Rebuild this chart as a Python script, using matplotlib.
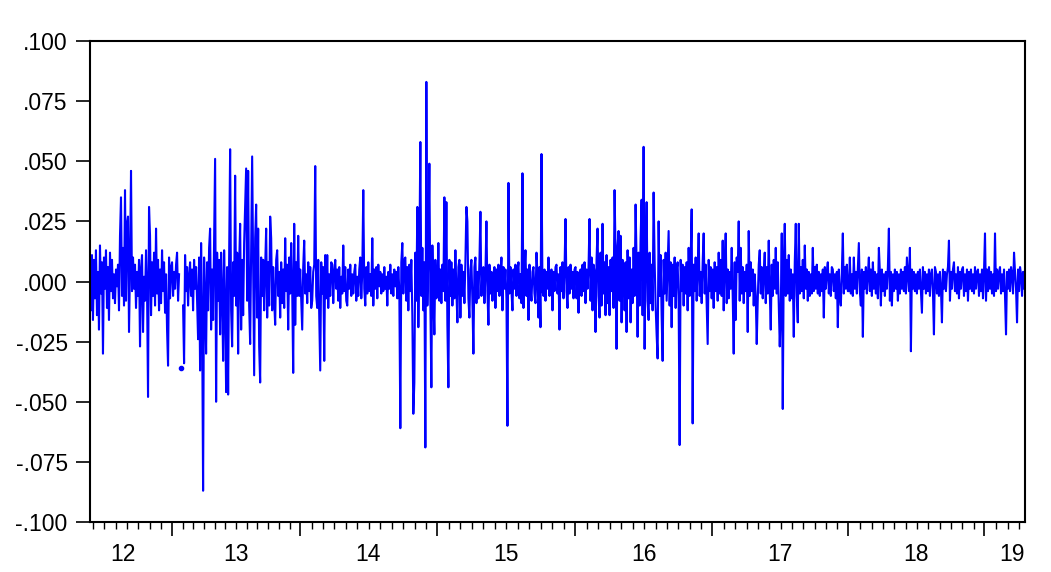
import numpy as np
import matplotlib.pyplot as plt

# daily returns, in thousandths (per mille), one list per calendar year
r2012 = [5, -12, 11, -16, 9, -7, 13, -14, 4, -20, 15, -5, 8, -30, 10, -3, 13, -11, 6, -16,
         12, -4, 9, -7, 3, -9, 5, -2, 7, -12, 19, 35, -6, 14, -10, 38, -8, 24, 27, -21,
         6, 46, -4, 10, -3, 7, -11, 4, -6, 9, -27, 5, 11, -21, 2, -8, 13, -3, -48, 31,
         19, -14, 8, -6, 12, -10, 22, -5, 9, -12, 5, -9, 13, -4, 8, -13, 3, -20, -35, 10,
         -7, 6]
r2013 = [8, -6, 4, -3, 7, 12, -8, 3, None, -36, None, -10, -34, 11, -4, 6, -10, 2, 8, -6,
         5, -12, 9, -3, 6, -8, -24, 10, -37, 16, -14, -87, 10, -6, -30, 8, -12, 14, 22, -20,
         5, -16, 18, 51, -50, 12, -8, 9, -22, 12, -5, -33, 13, -9, -46, 6, -47, 10, 55, -12,
         -27, 8, -6, 44, -10, 12, -30, 7, 24, -20, 9, -14, 16, 31, 47, -8, 46, -10, -26, 12,
         52, 4, -39, 18, 32, -15, 22, -27, -42, 10, -6, 9, -12, 6, 22, -15, 8, -10, 27, 18,
         -12, 6, -8, -18, 9, 13, -6, 4, -15, 8, -9, 5, -11, 18, -4, 7, -20, 10, -5, 16,
         -3, -38, 24, -18, 8, -6, 19, -6]
r2014 = [5, -8, -20, 6, 17, -5, 3, -9, 8, -4, 6, -11, -8, 4, 7, 48, -6, -11, 9, -14,
         -37, 8, -5, 6, -33, 11, -7, 11, -11, 3, -6, 8, 7, -9, 4, 9, -3, 5, -8, 6,
         -11, 2, -5, 15, -4, 6, -8, -10, 5, -3, 7, -6, 3, -5, 4, 7, -8, 2, -6, 5,
         10, -7, 4, 38, -3, -10, 6, -5, 8, -4, 3, -6, 18, -10, 5, -3, 6, -7, 7, -2,
         4, -5, 3, -4, 6, -3, 2, -10, 4, -3, 7, -5, 3, -6, 5, -2, 4, -7, 6, -4,
         -61, 8, 16, -5, 9, 10, -8, 6, -12, 7, -4, 9, -14, -55, -42, 12, -8, 31, -19, 10,
         58, -6, 14, -12, 8, -69, 83, -10, 12, 49, -8, -44, 15, -6, -22, 9, -7]
r2015 = [-5, 16, -8, 5, -9, 7, -4, 35, -8, 33, -18, -44, 9, -6, 8, -10, 5, -7, 13, -4,
         -17, 6, 9, -15, 7, -6, 4, -9, 8, 31, 25, -7, -15, 5, 9, -8, -30, 6, 10, -9,
         4, -7, 8, 29, -6, 5, 6, -9, 3, 25, -4, -18, 7, -5, 4, -8, 3, 6, -11, 5,
         -4, 7, -6, 3, 10, -12, 6, -3, 5, -7, -60, 41, -5, 6, -4, -12, 5, -3, 7, -6,
         4, 8, -7, 3, -9, 45, -11, 4, 13, -6, 5, -16, 7, -3, -8, 4, 6, -5, -9, 12,
         3, -15, 6, -19, 53, -4, -6, 5, -8, 4, -3, 10, -6, 3, 5, -12, 4, -4, 6, 7,
         -5, 3, -20, 6, -4, 8, -7, 5, 26, -4, -11, 6, -5, 7, -3, 4, -7, 5]
r2016 = [6, -7, 4, -13, 3, 5, -6, 7, -4, 8, -9, 5, -3, 6, 26, -8, 10, -12, 7, 4,
         -21, 9, 22, -6, -15, 12, -10, 24, -5, 8, -14, 11, -9, 6, -14, 9, -4, 10, -11, 38,
         12, -28, 15, 21, -8, 19, -17, 9, 6, -12, 8, -21, 13, -7, 10, -17, 5, -9, 14, -6,
         32, 8, -23, 12, -10, 18, 34, -14, 56, -28, 10, 33, -8, -16, 12, -9, 7, -12, 37, 9,
         -10, -22, -32, 25, -6, 11, -14, -33, 9, -5, 12, -8, 6, 21, -10, 8, -19, 7, -6, 10,
         -11, 5, 8, -9, -68, 9, -4, 7, -10, 6, -5, 8, -12, 14, -6, 9, 30, -59, 7, -4,
         10, -8, 5, 20, -6, 4, -9, 8, 20, -5, 7, -10, -26, 9, -4, 6, -7]
r2017 = [5, -11, 8, -4, 6, -8, 12, -5, 9, -6, 17, -12, 7, 20, -9, 5, -7, 4, -3, 14,
         -6, -30, 8, -16, 10, 4, 25, -8, 14, -5, 6, -9, 4, -4, 7, -21, 21, -6, 8, -4,
         5, -10, 3, -6, -26, -8, 7, 13, -5, 6, -7, 4, 12, -9, 6, -5, 17, -4, -20, 7,
         -6, 9, -3, 14, -5, 8, -10, -27, -12, 20, -53, 8, 24, -6, 9, -5, 11, -8, 5, -7,
         3, -23, 8, 24, -6, -17, 24, -5, 6, -4, 9, -7, 15, -3, 5, -8, 4, -6, 3, -5,
         14, -4, 6, -3, 7, -5, 4, -6, 3, -4, 5, -15, 6, -3, 4, 8, -5, 3, -6, 6,
         5, -4, 3, -7, 4, -19, 5, -6, -10, 4, 20, -5, 6, -3, 7, -4]
r2018 = [-4, 10, -5, 3, -6, 10, -3, 4, -5, 6, 16, -4, -10, 5, -23, 4, -3, 6, -5, 3,
         10, -4, 5, -6, 8, -3, 4, -5, 3, -7, 14, 4, -10, 5, -4, 3, -6, 4, -3, 6,
         22, -8, 4, -10, 3, -4, 5, -3, 4, -8, 3, -5, 5, -3, 4, -4, 6, -5, 10, 3,
         -4, 14, -29, 5, -3, 4, -4, 3, -5, 4, -3, 5, -4, -13, 6, -3, 4, -5, 3, -4,
         5, -6, 3, 5, -4, -22, 6, 4, -5, 3, -6, 4, -3, -17, 5, -3, 4, -4, 3, 6,
         17, -8, 4, -3, 5, 8, -4, 3, -5, 6, -7, 4, -3, 5, 6, -6, 3, -4, 5, -8,
         4, -3, 5, -4, 3, -5, 6, -3, 4, 5, -6, 3, -4, 5, -7, 4]
r2019 = [20, -8, 5, -4, 6, -3, 4, -5, 3, -6, 20, -4, 5, -3, 4, 6, -5, 3, -4, 5,
         -6, -22, 4, -3, 5, -4, 6, 3, -5, 12, 4, -3, -17, 5, -4, 6, 3, -6, 4, -3,
         5]

year_labels = ['12', '13', '14', '15', '16', '17', '18', '19']
yearly = [r2012, r2013, r2014, r2015, r2016, r2017, r2018, r2019]

y = np.array(sum(yearly, []), dtype=float) / 1000.0
x = np.arange(len(y))
lengths = np.array([len(v) for v in yearly])
starts = np.concatenate([[0], np.cumsum(lengths)[:-1]])

plt.rcParams['font.family'] = ['Liberation Sans', 'DejaVu Sans']
fig = plt.figure(figsize=(10.51, 5.72), dpi=100)
ax = fig.add_axes([0.0856, 0.0874, 0.8897, 0.8409])

ax.plot(x, y, color='#0000ff', lw=1.5)
# observations standing alone between gaps are shown as dots
prev = np.concatenate([[np.nan], y[:-1]])
nxt = np.concatenate([y[1:], [np.nan]])
lone = np.isfinite(y) & np.isnan(prev) & np.isnan(nxt)
ax.plot(x[lone], y[lone], 'o', color='#0000ff', ms=3)

ax.set_xlim(0, len(y) - 1)
ax.set_ylim(-0.1, 0.1)
yt = np.round(np.arange(-0.1, 0.1001, 0.025), 3)
ax.set_yticks(yt)
ax.set_yticklabels([f'{v:.3f}'.replace('0.', '.') if abs(v) > 1e-9 else '.000' for v in yt])

# year boundaries (long ticks) and months (short ticks)
full = 135.0
months = []
for s, n in zip(starts, lengths):
    step = (n if n > 100 else full) / 12
    if s == 0:
        months += [starts[1] - k * step for k in range(1, 12) if starts[1] - k * step > 0]
    else:
        months += [s + k * step for k in range(1, 12) if s + k * step < len(y) - 1]
ax.set_xticks(starts[1:] - 0.5)
ax.set_xticklabels([])
ax.set_xticks(months, minor=True)
ax.tick_params(axis='x', which='major', direction='out', length=10, width=1.2)
ax.tick_params(axis='x', which='minor', direction='out', length=5, width=1.0)
ax.tick_params(axis='y', direction='out', length=10, width=1.2, pad=6, labelsize=16.5)

centers = starts + lengths / 2 - 0.5
centers[0] -= 8
centers[-1] += 7
sec = ax.secondary_xaxis('bottom')
sec.set_xticks(centers)
sec.set_xticklabels(year_labels)
sec.tick_params(length=0, pad=15, labelsize=16.5)
sec.spines['bottom'].set_visible(False)

for sp in ax.spines.values():
    sp.set_linewidth(1.5)

fig.savefig('out.png', dpi=100)
